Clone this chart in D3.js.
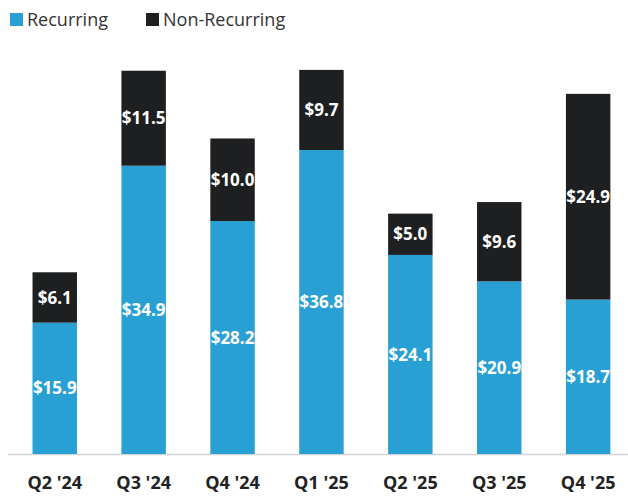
<!DOCTYPE html>
<html>
<head>
<meta charset="utf-8">
<script src="https://cdn.jsdelivr.net/npm/d3@7"></script>
<style>
  html, body { margin: 0; padding: 0; background: #fff; }
  svg { display: block; font-family: "Open Sans", "Noto Sans", sans-serif; }
</style>
</head>
<body>
<svg id="chart" width="628" height="498"></svg>
<script>
const quarters = ["Q2 '24", "Q3 '24", "Q4 '24", "Q1 '25", "Q2 '25", "Q3 '25", "Q4 '25"];
const recurring = [15.9, 34.9, 28.2, 36.8, 24.1, 20.9, 18.7];
const nonRecurring = [6.1, 11.5, 10.0, 9.7, 5.0, 9.6, 24.9];
const seriesNames = ["Recurring", "Non-Recurring"];
const seriesColors = ["#28a0d4", "#1e1f21"];

const width = 628;
const height = 498;
const baseline = 454;

const svg = d3.select("#chart");

const rows = quarters.map((quarter, i) => ({
  quarter,
  Recurring: recurring[i],
  "Non-Recurring": nonRecurring[i]
}));

const stacked = d3.stack().keys(seriesNames)(rows);

const x = d3.scaleBand()
  .domain(quarters)
  .range([10.3, 632.6])
  .paddingInner(0.5)
  .paddingOuter(0.25);

const y = d3.scaleLinear()
  .domain([0, 50])
  .range([baseline, baseline - 413]);

const color = d3.scaleOrdinal().domain(seriesNames).range(seriesColors);

// baseline rule
svg.append("line")
  .attr("x1", 8)
  .attr("x2", width)
  .attr("y1", baseline + 0.5)
  .attr("y2", baseline + 0.5)
  .attr("stroke", "#d4d4d4")
  .attr("stroke-width", 1.5);

const layers = svg.append("g")
  .selectAll("g.layer")
  .data(stacked)
  .join("g")
  .attr("class", "layer")
  .attr("fill", (d) => color(d.key));

layers.selectAll("rect")
  .data((d) => d)
  .join("rect")
  .attr("x", (d) => x(d.data.quarter))
  .attr("width", x.bandwidth())
  .attr("y", (d) => y(d[1]))
  .attr("height", (d) => y(d[0]) - y(d[1]));

layers.selectAll("text")
  .data((d) => d.map((seg) => ({ seg, key: d.key })))
  .join("text")
  .attr("x", (d) => x(d.seg.data.quarter) + x.bandwidth() / 2)
  .attr("y", (d) => (y(d.seg[0]) + y(d.seg[1])) / 2)
  .attr("dy", "0.36em")
  .attr("text-anchor", "middle")
  .attr("fill", "#fff")
  .attr("font-size", 17)
  .attr("font-weight", 700)
  .text((d) => "$" + d.seg.data[d.key].toFixed(1));

// category axis, no line or ticks
const axis = svg.append("g")
  .attr("transform", `translate(0,${baseline})`)
  .call(d3.axisBottom(x).tickSize(0).tickPadding(22));

axis.select(".domain").remove();
axis.selectAll("text")
  .attr("font-family", "\"Open Sans\", sans-serif")
  .attr("font-size", 18)
  .attr("font-weight", 700)
  .attr("fill", "#222");

// legend
const legendItems = [
  { name: seriesNames[0], x: 10 },
  { name: seriesNames[1], x: 146 }
];

const legend = svg.append("g")
  .selectAll("g")
  .data(legendItems)
  .join("g")
  .attr("transform", (d) => `translate(${d.x},0)`);

legend.append("rect")
  .attr("y", 13)
  .attr("width", 13)
  .attr("height", 13)
  .attr("fill", (d) => color(d.name));

legend.append("text")
  .attr("x", 17)
  .attr("y", 26)
  .attr("font-size", 18)
  .attr("fill", "#333")
  .text((d) => d.name);
</script>
</body>
</html>
